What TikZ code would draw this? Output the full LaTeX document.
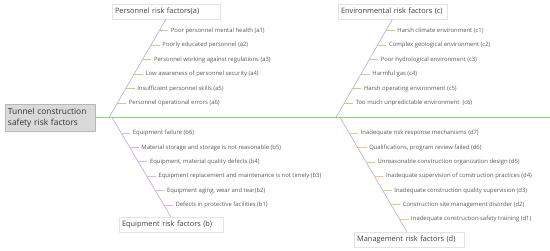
\documentclass[tikz,border=0pt]{standalone}
\usepackage{fontspec}
\setmainfont{Open Sans}
\usepackage{tikz}
\usetikzlibrary{positioning,calc}

\definecolor{spinegreen}{HTML}{8FD46F}
\definecolor{branchlav}{HTML}{B4AAD9}
\definecolor{leafgreen}{HTML}{A9DB8E}
\definecolor{leafpink}{HTML}{E2B4EA}
\definecolor{leaforange}{HTML}{F8C08A}
\definecolor{rootgray}{HTML}{D9D9D9}
\definecolor{boxline}{HTML}{E4E4E4}
\definecolor{itemtext}{HTML}{595959}

\begin{document}
\begin{tikzpicture}[
    x=1pt, y=-1pt,
    node distance=9pt,
    root/.style={draw=rootgray!85!black, fill=rootgray, align=left, text width=84pt, inner xsep=3pt, minimum height=27pt, font=\fontsize{8.4}{11}\selectfont, text=black!80},
    cat/.style={draw=boxline, fill=white, align=left, inner xsep=3pt, inner ysep=1.5pt, minimum height=15pt, font=\fontsize{7.4}{9}\selectfont, text=black!75},
    item/.style={inner sep=2.5pt, font=\fontsize{5.9}{7}\selectfont, text=itemtext, anchor=west},
    spine/.style={spinegreen, line width=1.8pt},
    branch/.style={branchlav, line width=0.6pt},
    leafa/.style={leafgreen, line width=0.8pt},
    leafb/.style={leafpink, line width=0.8pt},
    leafd/.style={leaforange, line width=0.8pt}
  ]
    \useasboundingbox (0,0) rectangle (550,251);
    % main spine
    \node[root] (root) at (50,117.5) {Tunnel construction\\safety risk factors};
    \coordinate (tail) at (550,117.5);
    \draw[spine] (root.east |- tail) -- (tail);
    \coordinate (ja) at (109,117.5);
    \coordinate (jb) at (112,117.5);
    \coordinate (jc) at (336,117.5);
    \coordinate (jd) at (340,117.5);

    % category boxes
    \node[cat, text width=102pt, anchor=south] (pa) at (166,19) {Personnel risk factors(a)};
    \node[cat, text width=103pt, anchor=south] (pc) at (392.5,19) {Environmental risk factors (c)};
    \node[cat, text width=98pt, anchor=north] (pb) at (171,217) {Equipment risk factors (b)};
    \node[cat, text width=104pt, anchor=north west] (pd) at (354,232) {Management risk factors (d)};
    \coordinate (pdtop) at ([xshift=53pt]pd.north west);
    \draw[branch] (ja) -- (pa.south);
    \draw[branch] (jb) -- (pb.north);
    \draw[branch] (jc) -- (pc.south);
    \draw[branch] (jd) -- (pdtop);

    % personnel (a)
    \coordinate (a1) at ($(ja)!0.8806!(pa.south)$);
    \coordinate (a2) at ($(ja)!0.7332!(pa.south)$);
    \coordinate (a3) at ($(ja)!0.5857!(pa.south)$);
    \coordinate (a4) at ($(ja)!0.4383!(pa.south)$);
    \coordinate (a5) at ($(ja)!0.2908!(pa.south)$);
    \coordinate (a6) at ($(ja)!0.1434!(pa.south)$);
    \node[item, right=of a1] (a1t) {Poor personnel mental health (a1)};
    \node[item, right=of a2] (a2t) {Poorly educated personnel (a2)};
    \node[item, right=of a3] (a3t) {Personnel working against regulations (a3)};
    \node[item, right=of a4] (a4t) {Low awareness of personnel security (a4)};
    \node[item, right=of a5] (a5t) {Insufficient personnel skills (a5)};
    \node[item, right=of a6] (a6t) {Personnel operational errors (a6)};
    \draw[leafa] (a1) -- (a1t.west);
    \draw[leafa] (a2) -- (a2t.west);
    \draw[leafa] (a3) -- (a3t.west);
    \draw[leafa] (a4) -- (a4t.west);
    \draw[leafa] (a5) -- (a5t.west);
    \draw[leafa] (a6) -- (a6t.west);

    % environmental (c)
    \coordinate (c1) at ($(jc)!0.8806!(pc.south)$);
    \coordinate (c2) at ($(jc)!0.7332!(pc.south)$);
    \coordinate (c3) at ($(jc)!0.5857!(pc.south)$);
    \coordinate (c4) at ($(jc)!0.4383!(pc.south)$);
    \coordinate (c5) at ($(jc)!0.2908!(pc.south)$);
    \coordinate (c6) at ($(jc)!0.1434!(pc.south)$);
    \node[item, right=of c1] (c1t) {Harsh climate environment (c1)};
    \node[item, right=of c2] (c2t) {Complex geological environment (c2)};
    \node[item, right=of c3] (c3t) {Poor hydrological environment (c3)};
    \node[item, right=of c4] (c4t) {Harmful gas (c4)};
    \node[item, right=of c5] (c5t) {Harsh operating environment (c5)};
    \node[item, right=of c6] (c6t) {Too much unpredictable environment~ (c6)};
    \draw[leafa] (c1) -- (c1t.west);
    \draw[leafa] (c2) -- (c2t.west);
    \draw[leafa] (c3) -- (c3t.west);
    \draw[leafa] (c4) -- (c4t.west);
    \draw[leafa] (c5) -- (c5t.west);
    \draw[leafa] (c6) -- (c6t.west);

    % equipment (b)
    \coordinate (b6) at ($(jb)!0.157!(pb.north)$);
    \coordinate (b5) at ($(jb)!0.3015!(pb.north)$);
    \coordinate (b4) at ($(jb)!0.446!(pb.north)$);
    \coordinate (b3) at ($(jb)!0.5905!(pb.north)$);
    \coordinate (b2) at ($(jb)!0.735!(pb.north)$);
    \coordinate (b1) at ($(jb)!0.8795!(pb.north)$);
    \node[item, right=of b6] (b6t) {Equipment failure (b6)};
    \node[item, right=of b5] (b5t) {Material storage and storage is not reasonable (b5)};
    \node[item, right=of b4] (b4t) {Equipment, material quality defects (b4)};
    \node[item, right=of b3] (b3t) {Equipment replacement and maintenance is not timely (b3)};
    \node[item, right=of b2] (b2t) {Equipment aging, wear and tear(b2)};
    \node[item, right=of b1] (b1t) {Defects in protective facilities (b1)};
    \draw[leafb] (b6) -- (b6t.west);
    \draw[leafb] (b5) -- (b5t.west);
    \draw[leafb] (b4) -- (b4t.west);
    \draw[leafb] (b3) -- (b3t.west);
    \draw[leafb] (b2) -- (b2t.west);
    \draw[leafb] (b1) -- (b1t.west);

    % management (d)
    \coordinate (d7) at ($(jd)!0.1365!(pdtop)$);
    \coordinate (d6) at ($(jd)!0.262!(pdtop)$);
    \coordinate (d5) at ($(jd)!0.388!(pdtop)$);
    \coordinate (d4) at ($(jd)!0.513!(pdtop)$);
    \coordinate (d3) at ($(jd)!0.638!(pdtop)$);
    \coordinate (d2) at ($(jd)!0.763!(pdtop)$);
    \coordinate (d1) at ($(jd)!0.8885!(pdtop)$);
    \node[item, right=of d7] (d7t) {Inadequate risk response mechanisms (d7)};
    \node[item, right=of d6] (d6t) {Qualifications, program review failed (d6)};
    \node[item, right=of d5] (d5t) {Unreasonable construction organization design (d5)};
    \node[item, right=of d4] (d4t) {Inadequate supervision of construction practices (d4)};
    \node[item, right=of d3] (d3t) {Inadequate construction quality supervision (d3)};
    \node[item, right=of d2] (d2t) {Construction site management disorder (d2)};
    \node[item, right=of d1] (d1t) {Inadequate construction safety training (d1)};
    \draw[leafd] (d7) -- (d7t.west);
    \draw[leafd] (d6) -- (d6t.west);
    \draw[leafd] (d5) -- (d5t.west);
    \draw[leafd] (d4) -- (d4t.west);
    \draw[leafd] (d3) -- (d3t.west);
    \draw[leafd] (d2) -- (d2t.west);
    \draw[leafd] (d1) -- (d1t.west);
  \end{tikzpicture}
\end{document}
